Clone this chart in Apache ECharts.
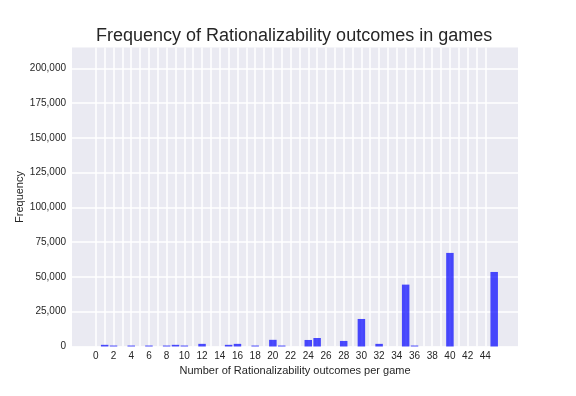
<!DOCTYPE html>
<html><head><meta charset="utf-8">
<script src="https://cdn.jsdelivr.net/npm/echarts@6/dist/echarts.min.js"></script>
<style>html,body{margin:0;padding:0;background:#fff}#c{width:576px;height:396px}</style>
</head><body><div id="c"></div>
<script>
const outcomes = [1, 2, 4, 6, 8, 9, 10, 12, 15, 16, 18, 20, 21, 24, 25, 28, 30, 32, 35, 36, 40, 45];
const frequencies = [1200, 700, 700, 700, 700, 1200, 700, 1900, 1200, 1900, 700, 4800, 700, 4700, 6100, 4000, 19800, 1900, 44500, 700, 67300, 53600];
const xTickLabels = [0,2,4,6,8,10,12,14,16,18,20,22,24,26,28,30,32,34,36,38,40,42,44];
const xGridValues = Array.from({length: 45}, (_, i) => i);
const yTicks = [0,25000,50000,75000,100000,125000,150000,175000,200000];

const font = "'Liberation Sans', Arial, sans-serif";
const chart = echarts.init(document.getElementById('c'), null, {renderer: 'canvas'});
chart.setOption({
  animation: false,
  backgroundColor: '#ffffff',
  title: {
    text: 'Frequency of Rationalizability outcomes in games',
    left: 91, top: 22,
    textStyle: {fontFamily: font, fontSize: 18, fontWeight: 'normal', color: '#262626'}
  },
  grid: {left: 72, right: 58, top: 47.5, bottom: 49.5, show: true, backgroundColor: '#EAEAF2', borderWidth: 0},
  xAxis: {
    type: 'value', min: -2.69, max: 47.69,
    name: 'Number of Rationalizability outcomes per game',
    nameLocation: 'middle', nameGap: 19, nameMoveOverlap: false,
    nameTextStyle: {fontFamily: font, fontSize: 11, color: '#262626'},
    axisLine: {show: false},
    axisTick: {show: false, customValues: xGridValues},
    axisLabel: {customValues: xTickLabels, fontFamily: font, fontSize: 10, color: '#262626', margin: 5},
    splitLine: {show: true, lineStyle: {color: '#ffffff', width: 1.5}}
  },
  yAxis: {
    type: 'value', min: 0, max: 215000,
    name: 'Frequency', nameLocation: 'middle', nameGap: 47, nameMoveOverlap: false,
    nameTextStyle: {fontFamily: font, fontSize: 11, color: '#262626'},
    axisLine: {show: false}, axisTick: {show: false, customValues: yTicks},
    axisLabel: {customValues: yTicks, fontFamily: font, fontSize: 10, color: '#262626', margin: 6,
      formatter: v => v.toLocaleString('en-US')},
    splitLine: {show: true, lineStyle: {color: '#ffffff', width: 1.5}}
  },
  series: [{
    type: 'bar', barWidth: 7.5,
    itemStyle: {color: 'rgba(0,0,255,0.7)'},
    data: outcomes.map((x, i) => [x, frequencies[i]])
  }]
});
</script></body></html>
